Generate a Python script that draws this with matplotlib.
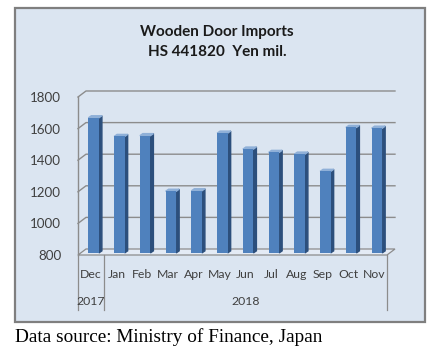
import matplotlib
matplotlib.use("Agg")
import matplotlib.pyplot as plt
from matplotlib.patches import Rectangle
from matplotlib.lines import Line2D

months = ["Dec", "Jan", "Feb", "Mar", "Apr", "May", "Jun", "Jul", "Aug", "Sep", "Oct", "Nov"]
values = [1655, 1537, 1542, 1190, 1193, 1558, 1457, 1436, 1425, 1316, 1594, 1589]
years = ["2017", "2018"]
year_spans = [(0, 0), (1, 11)]
yticks = [800, 1000, 1200, 1400, 1600, 1800]

FRONT = "#4f81bd"
SIDE = "#2c4f7c"
TOP = "#8fb0d8"
BG = "#dbe5f1"
GRID = "#8c8c8c"
TXT = "#404040"

fig = plt.figure(figsize=(4.42, 3.51), dpi=100)
fig.patch.set_facecolor("white")

# outer chart box
fig.patches.append(Rectangle((15 / 442, 1 - 322 / 351), 410 / 442, 314 / 351,
                             transform=fig.transFigure, facecolor=BG,
                             edgecolor="#7f7f7f", linewidth=1.6, zorder=-5))

ax = fig.add_axes([78 / 442, 1 - 255 / 351, 309 / 442, 158 / 351])
ax.set_zorder(2)
ax.set_facecolor("none")
ax.set_xlim(-0.5, len(months) - 0.5)
ax.set_ylim(800, 1800)
for s in ax.spines.values():
    s.set_visible(False)

# depth of the back wall and of each bar (data units)
ddx, ddy = 0.31, 38
bdx, bdy = 0.115, 13
offx, offy = 0.35 * ddx, 0.35 * ddy  # bars sit a bit behind the front edge
x0, x1 = -0.5, len(months) - 0.5

# floor
ax.fill([x0, x1, x1 + ddx, x0 + ddx], [800, 800, 800 + ddy, 800 + ddy],
        color="#e4ebf5", edgecolor=GRID, linewidth=0.9, zorder=1, clip_on=False)
# back wall gridlines
for y in yticks[1:]:
    ax.plot([x0, x0 + ddx, x1 + ddx], [y, y + ddy, y + ddy], color=GRID,
            linewidth=1.0, zorder=1, clip_on=False)
ax.plot([x0, x0], [800, 1800], color=GRID, linewidth=1.0, zorder=1, clip_on=False)

# bars with fake 3D faces
w = 0.41
for i, v in enumerate(values):
    c = i + offx
    l, r = c - w / 2, c + w / 2
    b, t = 800 + offy, v + offy
    ax.fill([r, r + bdx, r + bdx, r], [b, b + bdy, t + bdy, t],
            color=SIDE, zorder=3, clip_on=False)
    ax.fill([l, l + bdx, r + bdx, r], [t, t + bdy, t + bdy, t],
            color=TOP, zorder=3, clip_on=False)
    ax.bar(c, v - 800, bottom=b, width=w, color=FRONT, zorder=4, clip_on=False)

ax.set_yticks(yticks)
ax.set_yticklabels([str(t) for t in yticks], fontsize=9.6, color=TXT, family="Lato")
ax.tick_params(axis="y", length=0, pad=12)
ax.set_xticks(range(len(months)))
ax.set_xticklabels(months, fontsize=8.8, color=TXT, family="Lato")
ax.tick_params(axis="x", length=0, pad=10)

# year row and separators
trans = ax.get_xaxis_transform()
for yr, (a, b) in zip(years, year_spans):
    ax.text((a + b) / 2, -0.295, yr, transform=trans, ha="center", va="center",
            fontsize=8.8, color=TXT, family="Lato")
for xs in [x0, 0.5, x1]:
    ax.add_line(Line2D([xs, xs], [0, -0.35], transform=trans, color=GRID,
                       linewidth=0.9, clip_on=False))

fig.text(217 / 442, 1 - 32 / 351, "Wooden Door Imports", ha="center", va="center",
         fontsize=11, fontweight="bold", family="Lato", color="#1a1a1a")
fig.text(217 / 442, 1 - 52 / 351, "HS 441820  Yen mil.", ha="center", va="center",
         fontsize=11, fontweight="bold", family="Lato", color="#1a1a1a")

fig.text(15 / 442, 1 - 337 / 351, "Data source: Ministry of Finance, Japan",
         ha="left", va="center", fontsize=13.9, family="Liberation Serif", color="black")

fig.savefig("out.png", dpi=100)
